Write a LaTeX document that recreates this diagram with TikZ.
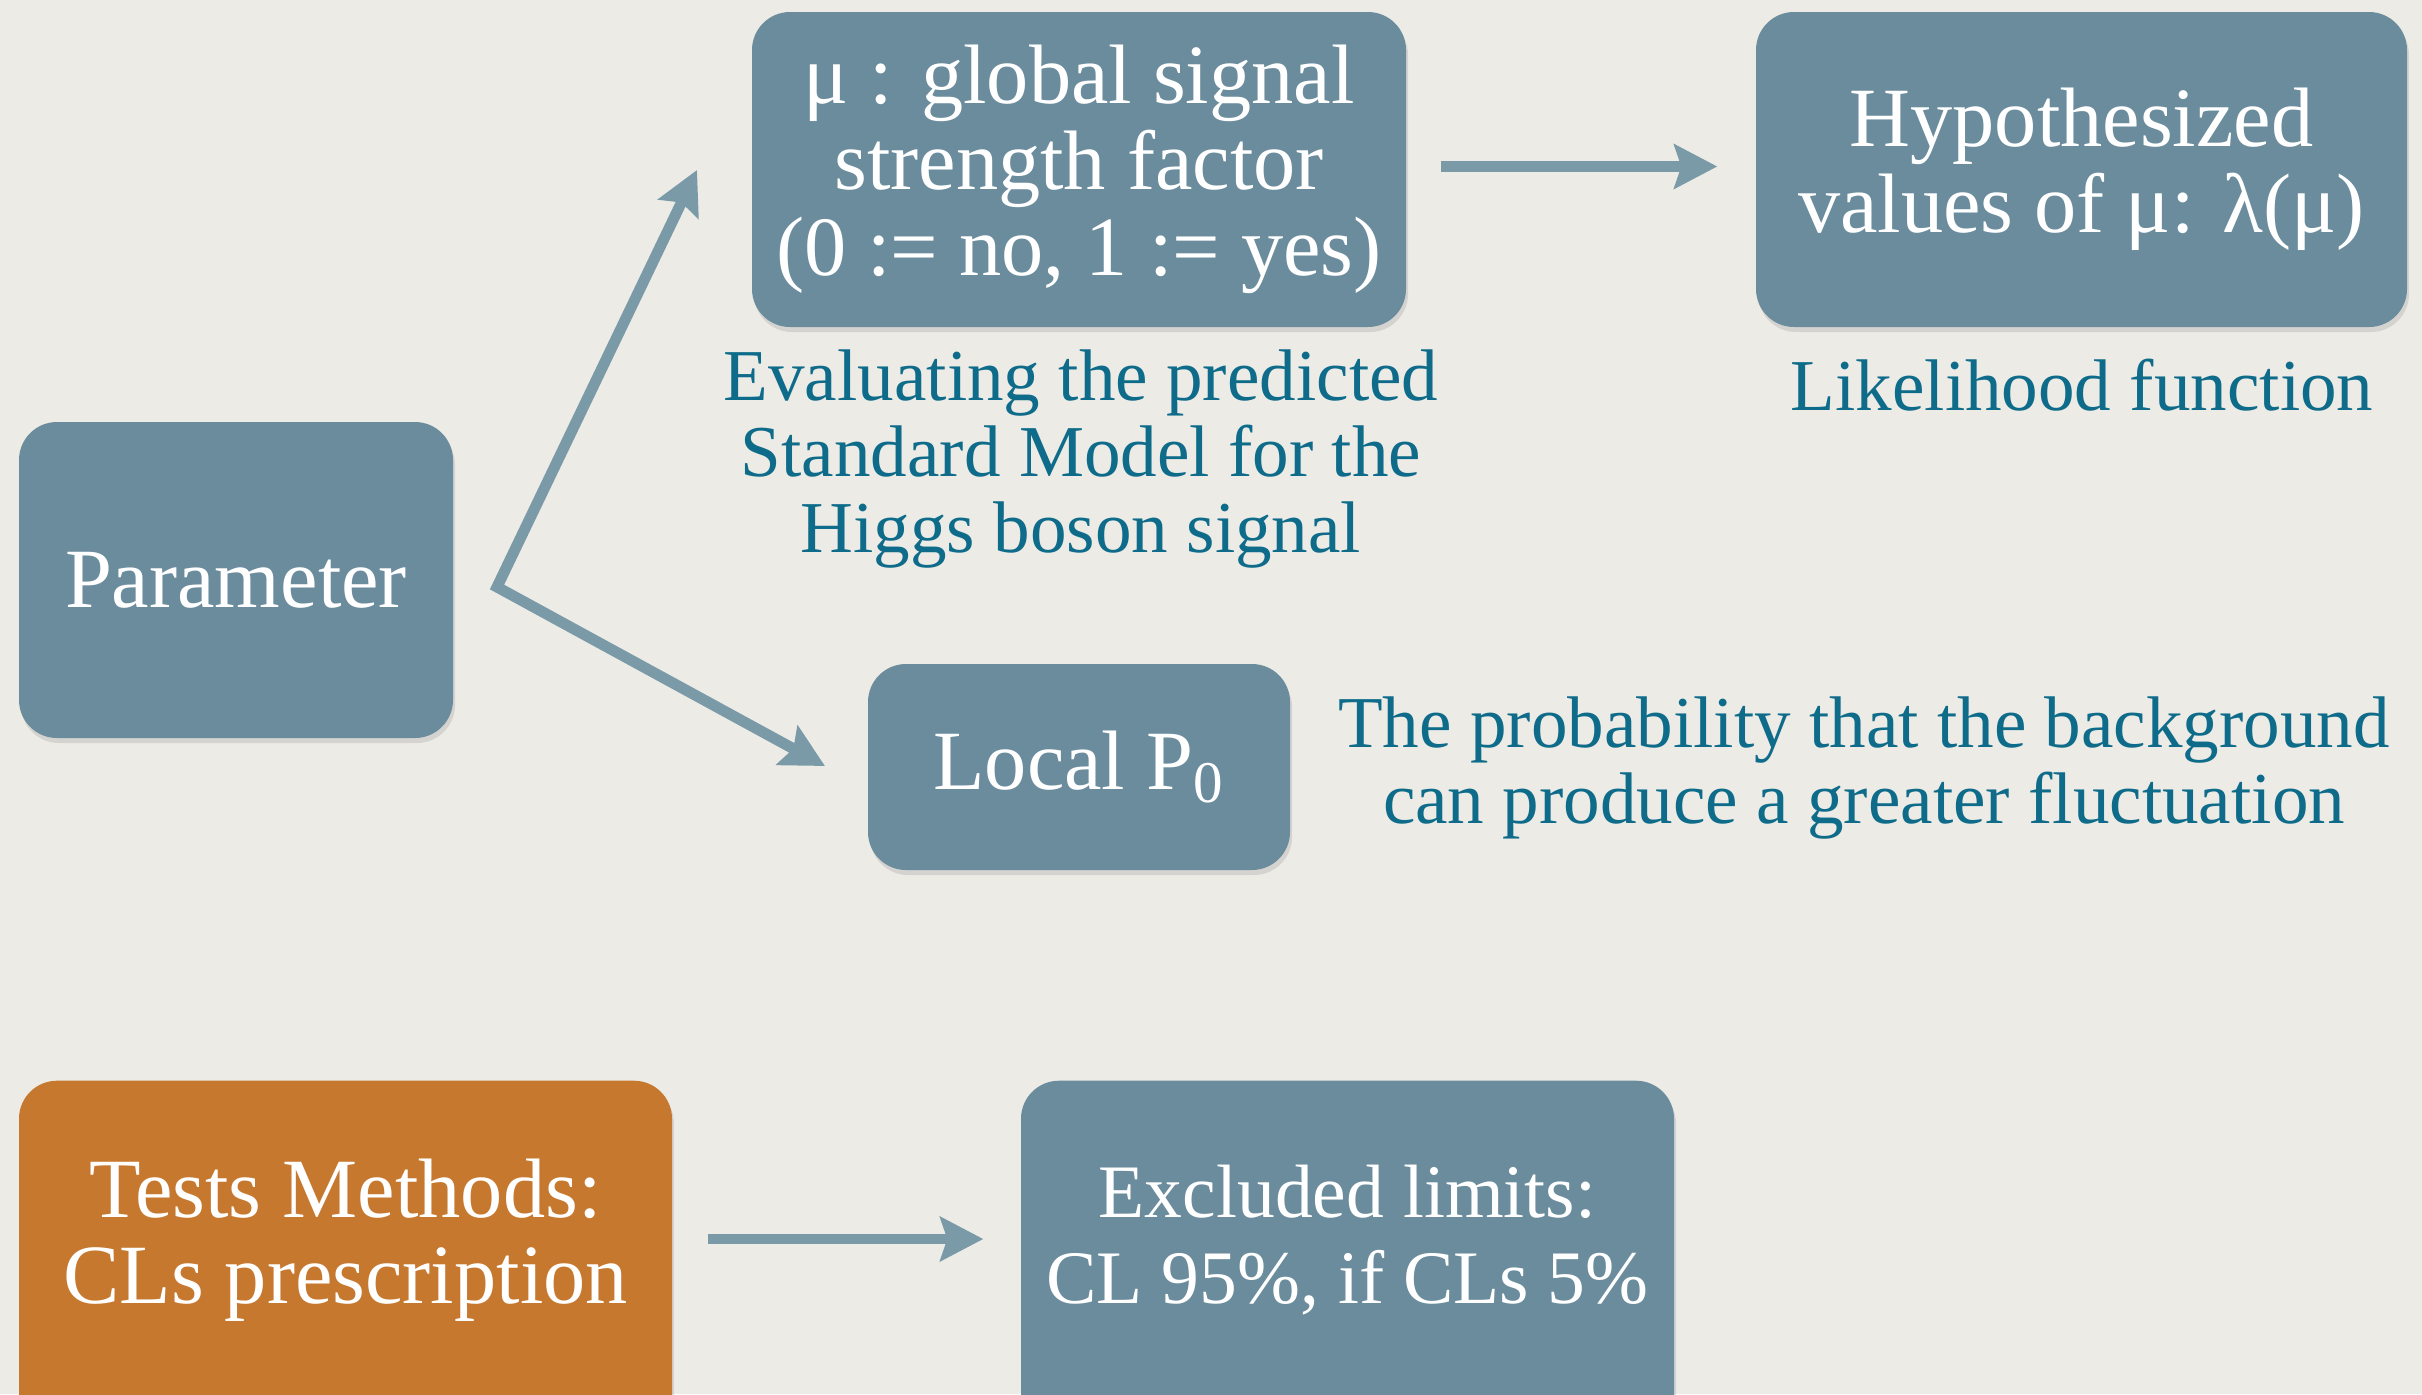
\documentclass[tikz,border=0pt]{standalone}
\usepackage{fontspec}
\setmainfont{Liberation Serif}
\usetikzlibrary{positioning,calc,arrows.meta,shadows}
\definecolor{paper}{HTML}{ECEBE6}
\definecolor{slate}{HTML}{6A8C9D}
\definecolor{rust}{HTML}{C7782F}
\definecolor{tealtext}{HTML}{0E6C8A}
\definecolor{arrowgrey}{HTML}{7B9AA8}
\begin{document}
\begin{tikzpicture}[
    boxtext/.style={text=white, align=center, font=\fontsize{24}{24.5}\selectfont},
    box/.style={boxtext, fill=slate, rounded corners=0.38cm, inner sep=0pt,
        drop shadow={shadow xshift=0.02cm, shadow yshift=-0.05cm, opacity=0.22}},
    note/.style={text=tealtext, align=center, font=\fontsize{20.8}{21.5}\selectfont},
    arr/.style={-{Stealth[length=0.43cm, width=0.44cm, inset=0.07cm]}, line width=3.1pt, arrowgrey},
    dblarr/.style={arr, {Stealth[length=0.43cm, width=0.44cm, inset=0.07cm]}-{Stealth[length=0.43cm, width=0.44cm, inset=0.07cm]}}
]
    \useasboundingbox (0,0) rectangle (24.22,-13.94);
    \fill[paper] (0,0) rectangle (24.22,-13.94);

    % Boxes, top part
    \node[box, minimum width=4.34cm, minimum height=3.16cm] (param) at (2.36,-5.80) {Parameter};
    \node[box, minimum width=6.54cm, minimum height=3.15cm] (mu) at (10.79,-1.695)
        {μ : global signal\\strength factor\\(0 := no, 1 := yes)};
    \node[box, minimum width=6.51cm, minimum height=3.15cm] (hyp) at (20.815,-1.695)
        {Hypothesized\\values of μ: λ(μ)};
    \node[box, minimum width=4.22cm, minimum height=2.06cm] (local) at (10.79,-7.67)
        {Local P\textsubscript{0}};

    % Boxes, bottom part (running off the page)
    \node[box, fill=rust, minimum width=6.53cm, minimum height=4.4cm, anchor=north] (tests) at (3.455,-10.80) {};
    \node[boxtext] (testslabel) at (3.455,-12.40) {Tests Methods:\\CLs prescription};
    \node[box, minimum width=6.53cm, minimum height=4.4cm, anchor=north] (excl) at (13.475,-10.80) {};
    \node[boxtext, font=\fontsize{21.5}{24.5}\selectfont] (excllabel) at (13.475,-12.40) {Excluded limits:\\CL 95\%, if CLs 5\%};

    % Notes
    \node[note] (evalnote) at (10.81,-4.59) {Evaluating the predicted\\Standard Model for the\\Higgs boson signal};
    \node[note] (likenote) at (20.82,-3.85) {Likelihood function};
    \node[note] (probnote) at (18.64,-7.68) {The probability that the background\\can produce a greater fluctuation};

    % Arrows
    \coordinate (fork) at (4.97,-5.87);
    \coordinate (mutip) at (6.97,-1.70);
    \coordinate (localtip) at (8.25,-7.66);
    \draw[dblarr] (mutip) -- (fork) -- (localtip);
    \draw[arr] ($(mu.east)+(0.34,0.03)$) -- ($(hyp.west)+(-0.38,0.03)$);
    \draw[arr] ($(tests.east |- testslabel)+(0.35,0.01)$) -- ($(excl.west |- excllabel)+(-0.37,0.01)$);
\end{tikzpicture}
\end{document}
